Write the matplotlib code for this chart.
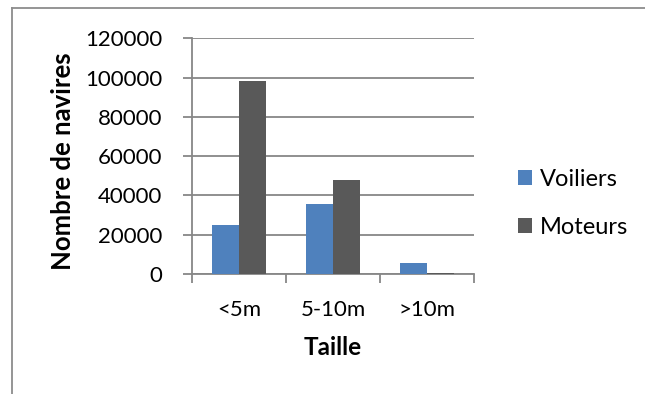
import matplotlib
matplotlib.use("Agg")
import matplotlib.pyplot as plt
from matplotlib.lines import Line2D
from matplotlib.patches import Patch
import numpy as np

categories = ["<5m", "5-10m", ">10m"]
voiliers = [25000, 35600, 5500]
moteurs = [98200, 48000, 500]
y_ticks = [0, 20000, 40000, 60000, 80000, 100000, 120000]

plt.rcParams["font.family"] = ["Lato", "DejaVu Sans"]

W, H = 645, 394
fig = plt.figure(figsize=(W / 100, H / 100), dpi=100)
fig.patch.set_facecolor("white")

ax = fig.add_axes([192 / W, 1 - 274 / H, (474 - 192) / W, (274 - 38.3) / H])

grey = "#878787"
x = np.arange(len(categories))
width = 1 / 3.5
ax.bar(x - width / 2, voiliers, width, color="#4F81BD", label="Voiliers", zorder=3)
ax.bar(x + width / 2, moteurs, width, color="#595959", label="Moteurs", zorder=3)

ax.set_xlim(-0.5, len(categories) - 0.5)
ax.set_ylim(0, 120000)
ax.set_yticks(y_ticks)
ax.set_yticklabels([str(v) for v in y_ticks], fontsize=16)
ax.yaxis.grid(True, color=grey, linewidth=1.3, zorder=0)
ax.set_axisbelow(True)

# category tick labels centred, boundary tick marks at category edges
ax.set_xticks(x)
ax.set_xticklabels(categories, fontsize=16)
ax.tick_params(axis="x", which="major", length=0, pad=19)
ax.set_xticks(np.arange(-0.5, len(categories)), minor=True)
ax.tick_params(axis="x", which="minor", length=6.5, width=1.3, color=grey)
ax.tick_params(axis="y", length=6.5, width=1.3, color=grey, pad=15)

for side in ["top", "right"]:
    ax.spines[side].set_visible(False)
for side in ["left", "bottom"]:
    ax.spines[side].set_color(grey)
    ax.spines[side].set_linewidth(1.3)

ax.set_xlabel("Taille", fontsize=17.5, fontweight="bold", labelpad=11.5)
ax.set_ylabel("Nombre de navires", fontsize=18.5, fontweight="bold")
ax.yaxis.set_label_coords(-0.415, 0.479)

handles = [Patch(facecolor="#4F81BD"), Patch(facecolor="#595959")]
fig.legend(handles, ["Voiliers", "Moteurs"], loc="center left",
           bbox_to_anchor=(497 / W, 1 - 203.5 / H), frameon=False,
           fontsize=17, handlelength=0.6, handleheight=0.6,
           handletextpad=0.3, labelspacing=1.13)

# chart frame
fig.add_artist(Line2D([12 / W, 12 / W], [1 - 8 / H, 0], transform=fig.transFigure,
                      color="#8c8c8c", linewidth=1.3))
fig.add_artist(Line2D([12 / W, 1], [1 - 8 / H, 1 - 8 / H], transform=fig.transFigure,
                      color="#8c8c8c", linewidth=1.3))

fig.savefig("out.png", dpi=100)
